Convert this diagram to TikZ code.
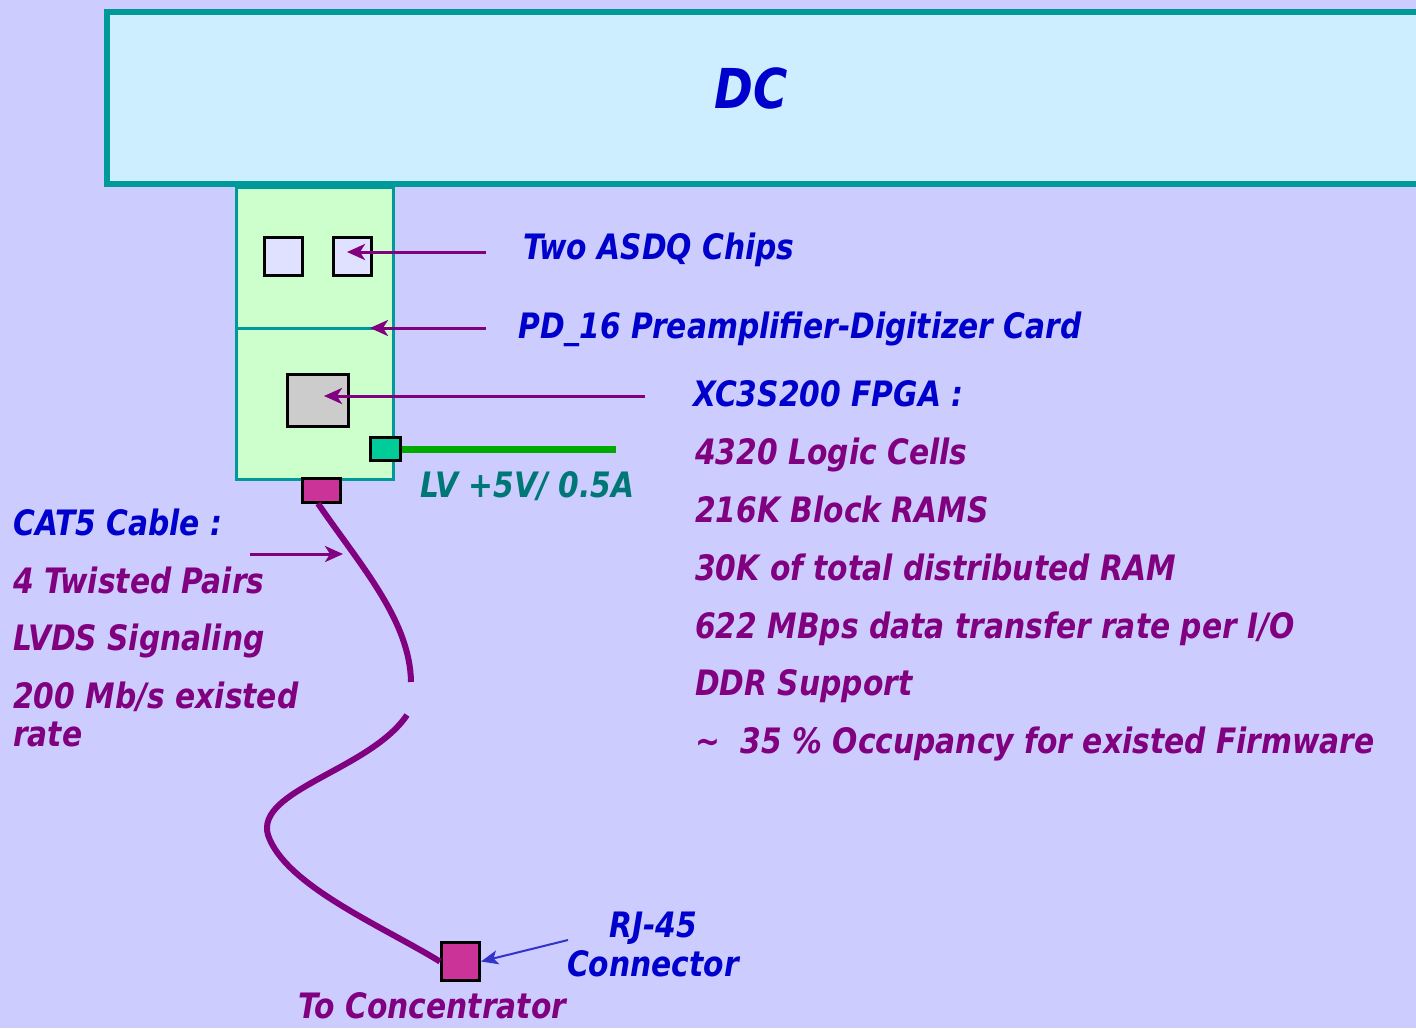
\documentclass[tikz,border=0pt]{standalone}
\usepackage{fontspec}
\usetikzlibrary{arrows.meta}
\newfontfamily\cfont{DejaVu Sans}[FakeStretch=0.85]
\definecolor{bgc}{HTML}{CCCCFF}
\definecolor{dcfill}{HTML}{CCEEFF}
\definecolor{tealb}{HTML}{009999}
\definecolor{cardfill}{HTML}{CCFFCC}
\definecolor{chipfill}{HTML}{E0E0FF}
\definecolor{txtblue}{HTML}{0000CC}
\definecolor{txtpurple}{HTML}{800080}
\definecolor{txtteal}{HTML}{007777}
\definecolor{lvbox}{HTML}{00CC99}
\definecolor{lvline}{HTML}{00AA00}
\definecolor{magent}{HTML}{CC3399}
\definecolor{arrblue}{HTML}{3333CC}
\tikzset{
  lbl/.style={anchor=base west, inner sep=0pt, font=\cfont\bfseries\itshape\fontsize{35}{40}\selectfont},
  bluetxt/.style={lbl, text=txtblue},
  purtxt/.style={lbl, text=txtpurple},
  chipbox/.style={draw=black, line width=3pt, inner sep=0pt},
  parrow/.style={draw=txtpurple, line width=3pt, -{Stealth[length=18pt,width=16pt,inset=5pt]}},
  cable/.style={draw=txtpurple, line width=6pt},
}
\begin{document}
\begin{tikzpicture}[x=1pt,y=-1pt]
\useasboundingbox (0,0) rectangle (1416,1028);
\fill[bgc] (0,0) rectangle (1416,1028);
\clip (0,0) rectangle (1416,1028);
% DC box
\draw[fill=dcfill, draw=tealb, line width=6pt] (107,12) rectangle (1440,184);
\node[font=\cfont\bfseries\itshape\fontsize{55}{60}\selectfont, text=txtblue, inner sep=0pt] (dc) at (751,88) {DC};
% card
\node[draw=tealb, fill=cardfill, line width=3pt, minimum width=157pt, minimum height=292pt, inner sep=0pt, anchor=north west] (card) at (235,186) {};
\draw[draw=tealb, line width=3pt] (235,328) coordinate (divl) -- (392,328) coordinate (divr);
% chips
\node[chipbox, fill=chipfill, minimum width=38pt, minimum height=38pt] (chip1) at (283.5,256) {};
\node[chipbox, fill=chipfill, minimum width=38pt, minimum height=38pt] (chip2) at (352,256) {};
% FPGA
\node[chipbox, fill=black!20, minimum width=61pt, minimum height=52pt] (fpga) at (317.5,400) {};
% LV
\draw[draw=lvline, line width=7pt] (395,449) -- (616,449) coordinate (lvend);
\node[chipbox, fill=lvbox, minimum width=30pt, minimum height=23pt] (lv) at (385.5,448.5) {};
% top connector
\node[chipbox, fill=magent, minimum width=38pt, minimum height=24pt] (conn1) at (321,490) {};
% RJ-45 connector
\node[chipbox, fill=magent, minimum width=38pt, minimum height=38pt] (rj) at (460.5,961.5) {};
% cable
\draw[cable] (conn1.south) ++(-3,0) .. controls (360,565) and (410,620) .. (411,682) coordinate (cabA);
\coordinate (cabB) at (407,715);
\draw[cable] (cabB) .. controls (370,770) and (255,790) .. (268,835) .. controls (285,885) and (380,925) .. (rj.west);
% arrows
\coordinate (a1) at (486,252);
\coordinate (a2) at (486,328);
\coordinate (a3) at (645,396);
\coordinate (a4) at (250,554);
\coordinate (a4e) at (343,554);
\coordinate (a5) at (568,940);
\draw[parrow] (a1) -- (347,252);
\draw[parrow] (a2) -- (370,328);
\draw[parrow] (a3) -- (324,396);
\draw[parrow] (a4) -- (a4e);
\draw[draw=arrblue, line width=2pt, -{Stealth[length=17pt,width=14pt,inset=4pt]}] (a5) -- (rj.east);
% labels
\node[bluetxt] (t1) at (523,259) {Two ASDQ Chips};
\node[bluetxt] (t2) at (518,338) {PD\_16 Preamplifier-Digitizer Card};
\node[bluetxt] (t3) at (693,406) {XC3S200 FPGA :};
\node[purtxt] (t4) at (695,464) {4320 Logic Cells};
\node[purtxt] (t5) at (695,522) {216K Block RAMS};
\node[purtxt] (t6) at (695,580) {30K of total distributed RAM};
\node[purtxt] (t7) at (695,638) {622 MBps data transfer rate per I/O};
\node[purtxt] (t8) at (695,695) {DDR Support};
\node[purtxt] (t9) at (695,753) {\textasciitilde\ \ 35 \% Occupancy for existed Firmware};
\node[lbl, text=txtteal] (tlv) at (420,497) {LV +5V/ 0.5A};
\node[bluetxt] (c1) at (13,535) {CAT5 Cable :};
\node[purtxt] (c2) at (13,593) {4 Twisted Pairs};
\node[purtxt] (c3) at (13,650) {LVDS Signaling};
\node[purtxt] (c4) at (13,708) {200 Mb/s existed};
\node[purtxt] (c5) at (13,746) {rate};
\node[bluetxt, anchor=base] (r1) at (653,937) {RJ-45};
\node[bluetxt, anchor=base] (r2) at (653,976) {Connector};
\node[purtxt] (tc) at (298,1018) {To Concentrator};
\end{tikzpicture}
\end{document}
